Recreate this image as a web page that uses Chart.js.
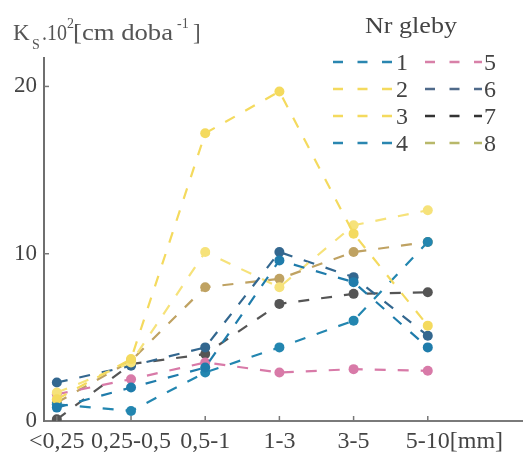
<!DOCTYPE html>
<html>
<head>
<meta charset="utf-8">
<script src="https://cdn.jsdelivr.net/npm/chart.js@4"></script>
<style>
  html, body { margin: 0; padding: 0; background: #fff; }
  #wrap { width: 527px; height: 453px; }
</style>
</head>
<body>
<div id="wrap"><canvas id="ksChart" width="527" height="453"></canvas></div>
<script>
// grain size fractions
const categories = ['<0,25', '0,25-0,5', '0,5-1', '1-3', '3-5', '5-10'];
const yTicks = [0, 10, 20];

// Ks * 10^2 [cm/doba] per soil number
const gleba1 = [0.8, 2.0, 3.2, 9.6, 8.3, 4.4];
const gleba2 = [1.3, 3.7, 17.2, 19.7, 11.2, 5.7];
const gleba3 = [1.7, 3.5, 10.1, 8.0, 11.7, 12.6];
const gleba4 = [1.0, 0.6, 2.9, 4.4, 6.0, 10.7];
const gleba5 = [1.6, 2.5, 3.5, 2.9, 3.1, 3.0];
const gleba6 = [2.3, 3.3, 4.4, 10.1, 8.6, 5.1];
const gleba7 = [0.1, 3.4, 4.0, 7.0, 7.6, 7.7];
const gleba8 = [1.1, 3.6, 8.0, 8.5, 10.1, 10.7];

const names = ['1', '2', '3', '4', '5', '6', '7', '8'];
const series = [gleba1, gleba2, gleba3, gleba4, gleba5, gleba6, gleba7, gleba8];
const colors = ['#1f7cab', '#f4da5e', '#f6e27a', '#2386b0', '#d87aa8', '#33678f', '#555555', '#bfa262'];
const legendColors = ['#2a86b0', '#f4da5e', '#f4da5e', '#2a86b0', '#d880a8', '#4f6a8a', '#333333', '#b8b86a'];

const serif = "'Liberation Serif', 'Times New Roman', serif";
const textColor = '#444';
const xTickSize = 24;
const xTickPad = 6;

const datasets = series.map((vals, k) => ({
  label: names[k],
  data: vals.map((v, i) => ({ x: i, y: v })),
  borderColor: colors[k],
  backgroundColor: colors[k],
  borderWidth: 2.2,
  borderDash: [11, 12],
  pointRadius: 5,
  pointBorderWidth: 0,
  pointBackgroundColor: colors[k],
  tension: 0
}));

// horizontally fitted text helper
function fitText(ctx, str, x, baseline, width) {
  const w = ctx.measureText(str).width;
  ctx.save();
  ctx.translate(x, baseline);
  ctx.scale(width / w, 1);
  ctx.fillText(str, 0, 0);
  ctx.restore();
}

const decor = {
  id: 'decor',
  afterDraw(chart) {
    const { ctx, chartArea: a, scales: { x, y } } = chart;
    ctx.save();

    // inner tick marks
    ctx.strokeStyle = '#777';
    ctx.lineWidth = 1.5;
    x.ticks.forEach(t => {
      const px = x.getPixelForValue(t.value);
      ctx.beginPath(); ctx.moveTo(px, a.bottom); ctx.lineTo(px, a.bottom - 5); ctx.stroke();
    });
    y.ticks.forEach(t => {
      if (t.value === 0) return;
      const py = y.getPixelForValue(t.value);
      ctx.beginPath(); ctx.moveTo(a.left, py); ctx.lineTo(a.left + 5, py); ctx.stroke();
    });

    // unit after the last fraction label, same line as the tick labels
    ctx.fillStyle = textColor;
    ctx.font = xTickSize + 'px ' + serif;
    ctx.textBaseline = 'middle';
    const lastX = x.getPixelForValue(categories.length - 1) + ctx.measureText('5-10').width / 2;
    ctx.fillText('[mm]', lastX, a.bottom + xTickPad + xTickSize * 1.2 / 2);
    ctx.textBaseline = 'alphabetic';

    // axis title
    ctx.fillStyle = '#555';
    ctx.font = '23px ' + serif;
    ctx.fillText('K', 13, 40);
    ctx.font = '14px ' + serif;
    ctx.fillText('S', 32, 49);
    ctx.font = '23px ' + serif;
    fitText(ctx, '.10', 42, 40, 25);
    ctx.font = '14px ' + serif;
    ctx.fillText('2', 67, 28);
    ctx.font = '23px ' + serif;
    fitText(ctx, '[cm doba', 73, 40, 100);
    ctx.font = '14px ' + serif;
    ctx.fillText('-1', 177, 28);
    ctx.font = '23px ' + serif;
    ctx.fillText(']', 193, 40);

    // legend
    ctx.fillStyle = textColor;
    ctx.font = '23px ' + serif;
    fitText(ctx, 'Nr gleby', 365, 33, 92);
    const rows = [[0, 4], [1, 5], [2, 6], [3, 7]];
    const baselines = [70, 97, 124, 151];
    const cols = [{ x0: 333, x1: 392, tx: 396 }, { x0: 425, x1: 482, tx: 484 }];
    ctx.lineWidth = 2.4;
    rows.forEach((pair, r) => {
      pair.forEach((k, c) => {
        const col = cols[c];
        const cy = baselines[r] - 8;
        ctx.strokeStyle = legendColors[k];
        ctx.setLineDash([10, 14.5]);
        ctx.beginPath(); ctx.moveTo(col.x0, cy); ctx.lineTo(col.x1, cy); ctx.stroke();
        ctx.setLineDash([]);
        ctx.fillStyle = textColor;
        ctx.font = '24px ' + serif;
        ctx.fillText(names[k], col.tx, baselines[r]);
      });
    });
    ctx.restore();
  }
};

new Chart(document.getElementById('ksChart').getContext('2d'), {
  type: 'line',
  data: { datasets: datasets },
  options: {
    responsive: false,
    animation: false,
    layout: { padding: { top: 58, right: 0, bottom: 0, left: 0 } },
    plugins: { legend: { display: false }, tooltip: { enabled: false } },
    scales: {
      x: {
        type: 'linear',
        min: -0.173,
        max: 6.27,
        afterFit: s => { s.height = 32; },
        afterBuildTicks: s => { s.ticks = categories.map((c, i) => ({ value: i })); },
        grid: { display: true, drawOnChartArea: false, drawTicks: false },
        border: { display: true, color: '#7a7a7a', width: 2 },
        ticks: {
          autoSkip: false,
          maxRotation: 0,
          padding: xTickPad,
          color: textColor,
          font: { family: serif, size: xTickSize },
          callback: v => categories[v] !== undefined ? categories[v] : ''
        }
      },
      y: {
        min: 0,
        max: 21.7,
        afterFit: s => { s.width = 44; },
        afterBuildTicks: s => { s.ticks = yTicks.map(v => ({ value: v })); },
        grid: { display: true, drawOnChartArea: false, drawTicks: false },
        border: { display: true, color: '#6f6f6f', width: 2 },
        ticks: {
          padding: 7,
          color: textColor,
          font: { family: serif, size: 23 }
        }
      }
    }
  },
  plugins: [decor]
});
</script>
</body>
</html>
